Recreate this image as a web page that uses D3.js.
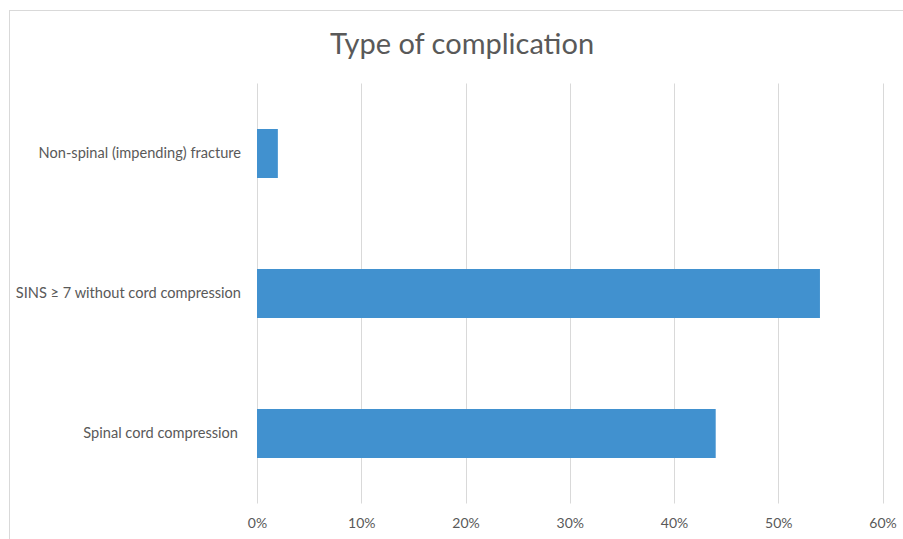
<!DOCTYPE html>
<html>
<head>
<meta charset="utf-8">
<script src="https://cdn.jsdelivr.net/npm/d3@7"></script>
<style>
  body { margin: 0; background: #fff; }
  text { font-family: Lato, "Open Sans", sans-serif; fill: #595959; }
</style>
</head>
<body>
<script>
// chart data
const categories = ['Non-spinal (impending) fracture', 'SINS \u2265 7 without cord compression', 'Spinal cord compression'];
const values = [0.02, 0.54, 0.44];
const tickValues = [0, 0.1, 0.2, 0.3, 0.4, 0.5, 0.6];
const title = 'Type of complication';

const W = 903, H = 539;
const plot = { left: 257, right: 882.5, top: 83.5, bottom: 503.5 };

const svg = d3.select('body').append('svg')
    .attr('width', W)
    .attr('height', H);

// chart frame (cropped on the right and bottom like the reference)
svg.append('rect')
    .attr('x', 9.5).attr('y', 10.5)
    .attr('width', 920).attr('height', 560)
    .attr('fill', 'none')
    .attr('stroke', '#d9d9d9');

const x = d3.scaleLinear()
    .domain([0, 0.6])
    .range([plot.left, plot.right]);

const y = d3.scaleBand()
    .domain(categories)
    .range([plot.top, plot.bottom])
    .paddingInner(0.65)
    .paddingOuter(0.325);

// vertical gridlines
svg.append('g')
    .selectAll('line')
    .data(tickValues)
    .join('line')
    .attr('x1', d => Math.round(x(d)) + 0.5)
    .attr('x2', d => Math.round(x(d)) + 0.5)
    .attr('y1', plot.top)
    .attr('y2', plot.bottom)
    .attr('stroke', '#d9d9d9')
    .attr('stroke-width', 1);

// bars
svg.append('g')
    .selectAll('rect')
    .data(categories)
    .join('rect')
    .attr('x', x(0))
    .attr('y', d => y(d))
    .attr('width', (d, i) => x(values[i]) - x(0))
    .attr('height', y.bandwidth())
    .attr('fill', '#4191cf');

// x axis labels
const xAxis = d3.axisBottom(x)
    .tickValues(tickValues)
    .tickFormat(d3.format('.0%'))
    .tickSize(0)
    .tickPadding(0);

const xg = svg.append('g')
    .attr('transform', `translate(0, ${plot.bottom + 15})`)
    .call(xAxis);
xg.select('.domain').remove();
xg.selectAll('text')
    .attr('font-size', 14)
    .style('font-family', 'Lato, sans-serif')
    .attr('fill', '#595959');

// category labels
const yAxis = d3.axisLeft(y).tickSize(0).tickPadding(0);
const yg = svg.append('g')
    .attr('transform', `translate(${241}, 0)`)
    .call(yAxis);
yg.select('.domain').remove();
yg.selectAll('text')
    .attr('font-size', 14.6)
    .attr('dx', (d, i) => i === 2 ? -3 : 0)
    .style('font-family', 'Lato, sans-serif')
    .attr('fill', '#595959');

// title
svg.append('text')
    .attr('x', 462)
    .attr('y', 54)
    .attr('text-anchor', 'middle')
    .attr('font-size', 29)
    .text(title);
</script>
</body>
</html>
